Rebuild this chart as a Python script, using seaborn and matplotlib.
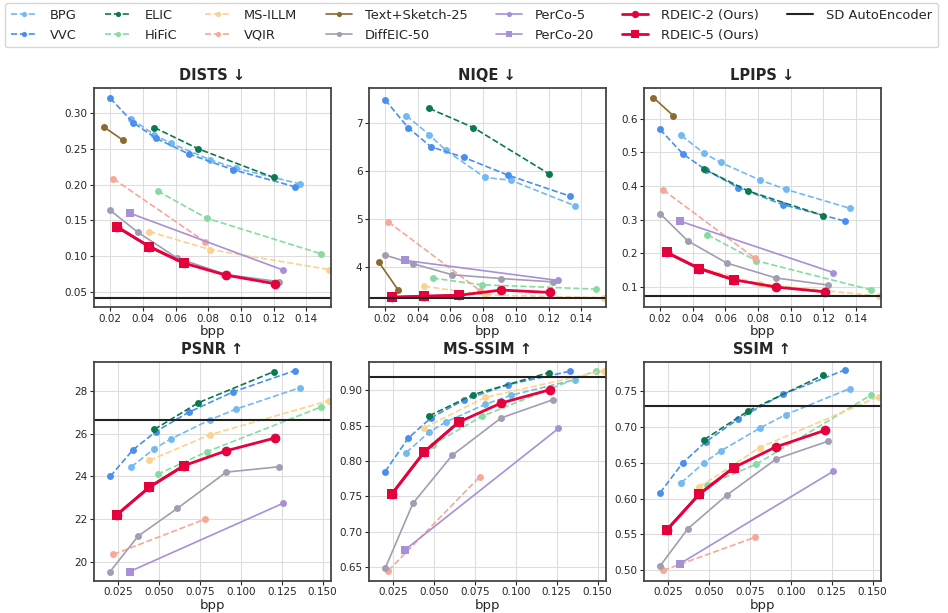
import matplotlib
matplotlib.use("Agg")
import matplotlib.pyplot as plt
import seaborn as sns
import pandas as pd

# bit rates (bpp) per method
BPP = {
    'BPG': [0.033, 0.047, 0.057, 0.081, 0.097, 0.136],
    'VVC': [0.020, 0.034, 0.048, 0.068, 0.095, 0.133],
    'ELIC': [0.047, 0.074, 0.120],
    'HiFiC': [0.049, 0.079, 0.149],
    'MS-ILLM': [0.044, 0.081, 0.154],
    'VQIR': [0.022, 0.078],
    'Text+Sketch-25': [0.016, 0.028],
    'DiffEIC-50': [0.020, 0.037, 0.061, 0.091, 0.123],
    'PerCo-5': [0.032, 0.126],
    'PerCo-20': [0.032],
    'RDEIC-2 (Ours)': [0.024, 0.044, 0.065, 0.091, 0.121],
    'RDEIC-5 (Ours)': [0.024, 0.044, 0.065],
}

DISTS = {
    'BPG': [0.292, 0.270, 0.258, 0.235, 0.223, 0.201],
    'VVC': [0.321, 0.287, 0.265, 0.243, 0.221, 0.197],
    'ELIC': [0.280, 0.250, 0.210],
    'HiFiC': [0.191, 0.153, 0.103],
    'MS-ILLM': [0.134, 0.109, 0.081],
    'VQIR': [0.208, 0.120],
    'Text+Sketch-25': [0.281, 0.262],
    'DiffEIC-50': [0.164, 0.133, 0.097, 0.074, 0.064],
    'PerCo-5': [0.160, 0.080],
    'PerCo-20': [0.160],
    'RDEIC-2 (Ours)': [0.141, 0.113, 0.090, 0.073, 0.061],
    'RDEIC-5 (Ours)': [0.141, 0.113, 0.090],
}

NIQE = {
    'BPG': [7.15, 6.75, 6.43, 5.86, 5.80, 5.27],
    'VVC': [7.48, 6.90, 6.50, 6.28, 5.91, 5.47],
    'ELIC': [7.30, 6.90, 5.94],
    'HiFiC': [3.76, 3.62, 3.53],
    'MS-ILLM': [3.59, 3.41, 3.35],
    'VQIR': [4.93, 3.50],
    'Text+Sketch-25': [4.10, 3.51],
    'DiffEIC-50': [4.24, 4.06, 3.83, 3.75, 3.68],
    'PerCo-5': [4.13, 3.71],
    'PerCo-20': [4.13],
    'RDEIC-2 (Ours)': [3.36, 3.38, 3.40, 3.51, 3.46],
    'RDEIC-5 (Ours)': [3.36, 3.38, 3.40],
}

LPIPS = {
    'BPG': [0.550, 0.497, 0.470, 0.418, 0.390, 0.334],
    'VVC': [0.568, 0.495, 0.448, 0.395, 0.345, 0.296],
    'ELIC': [0.450, 0.385, 0.312],
    'HiFiC': [0.255, 0.178, 0.092],
    'MS-ILLM': [0.157, 0.110, 0.073],
    'VQIR': [0.388, 0.186],
    'Text+Sketch-25': [0.662, 0.609],
    'DiffEIC-50': [0.318, 0.237, 0.171, 0.127, 0.106],
    'PerCo-5': [0.296, 0.143],
    'PerCo-20': [0.296],
    'RDEIC-2 (Ours)': [0.203, 0.155, 0.122, 0.100, 0.086],
    'RDEIC-5 (Ours)': [0.203, 0.155, 0.122],
}

PSNR = {
    'BPG': [24.45, 25.30, 25.75, 26.65, 27.15, 28.15],
    'VVC': [24.00, 25.25, 26.10, 27.00, 27.95, 28.95],
    'ELIC': [26.20, 27.45, 28.90],
    'HiFiC': [24.10, 25.15, 27.25],
    'MS-ILLM': [24.75, 25.95, 27.55],
    'VQIR': [20.35, 22.00],
    'DiffEIC-50': [19.55, 21.20, 22.50, 24.20, 24.45],
    'PerCo-5': [19.55, 22.75],
    'PerCo-20': [19.55],
    'RDEIC-2 (Ours)': [22.20, 23.50, 24.50, 25.20, 25.80],
    'RDEIC-5 (Ours)': [22.20, 23.50, 24.50],
}

MS_SSIM = {
    'BPG': [0.812, 0.841, 0.855, 0.880, 0.893, 0.915],
    'VVC': [0.785, 0.832, 0.861, 0.886, 0.908, 0.927],
    'ELIC': [0.864, 0.894, 0.925],
    'HiFiC': [0.823, 0.863, 0.928],
    'MS-ILLM': [0.847, 0.890, 0.928],
    'VQIR': [0.645, 0.778],
    'DiffEIC-50': [0.648, 0.740, 0.808, 0.861, 0.887],
    'PerCo-5': [0.674, 0.846],
    'PerCo-20': [0.674],
    'RDEIC-2 (Ours)': [0.753, 0.813, 0.855, 0.882, 0.901],
    'RDEIC-5 (Ours)': [0.753, 0.813, 0.855],
}

SSIM = {
    'BPG': [0.622, 0.650, 0.666, 0.698, 0.717, 0.753],
    'VVC': [0.608, 0.650, 0.679, 0.711, 0.745, 0.779],
    'ELIC': [0.682, 0.722, 0.772],
    'HiFiC': [0.619, 0.648, 0.744],
    'MS-ILLM': [0.616, 0.671, 0.742],
    'VQIR': [0.500, 0.546],
    'DiffEIC-50': [0.506, 0.558, 0.605, 0.655, 0.680],
    'PerCo-5': [0.509, 0.638],
    'PerCo-20': [0.509],
    'RDEIC-2 (Ours)': [0.556, 0.606, 0.643, 0.672, 0.695],
    'RDEIC-5 (Ours)': [0.556, 0.606, 0.643],
}

# SD AutoEncoder reference level per metric
SD_AE = {'DISTS': 0.041, 'NIQE': 3.35, 'LPIPS': 0.073,
         'PSNR': 26.65, 'MS-SSIM': 0.919, 'SSIM': 0.729}

METRICS = [('DISTS', '\u2193', DISTS, (0.028, 0.335)),
           ('NIQE', '\u2193', NIQE, (3.15, 7.72)),
           ('LPIPS', '\u2193', LPIPS, (0.04, 0.69)),
           ('PSNR', '\u2191', PSNR, (19.1, 29.35)),
           ('MS-SSIM', '\u2191', MS_SSIM, (0.63, 0.94)),
           ('SSIM', '\u2191', SSIM, (0.485, 0.79))]

STYLE = {
    'BPG': dict(color='#74b9f0', ls='--', marker='o', lw=1.2, ms=5),
    'VVC': dict(color='#4a8ff0', ls='--', marker='o', lw=1.2, ms=5),
    'ELIC': dict(color='#0a7a4e', ls='--', marker='o', lw=1.2, ms=5),
    'HiFiC': dict(color='#86dca0', ls='--', marker='o', lw=1.2, ms=5),
    'MS-ILLM': dict(color='#fcd28e', ls='--', marker='o', lw=1.2, ms=5),
    'VQIR': dict(color='#f7a898', ls='--', marker='o', lw=1.2, ms=5),
    'Text+Sketch-25': dict(color='#8b6a2e', ls='-', marker='o', lw=1.2, ms=5),
    'DiffEIC-50': dict(color='#a19db2', ls='-', marker='o', lw=1.2, ms=5),
    'PerCo-5': dict(color='#a890d8', ls='-', marker='o', lw=1.2, ms=5),
    'PerCo-20': dict(color='#a890d8', ls='-', marker='s', lw=1.2, ms=6),
    'RDEIC-2 (Ours)': dict(color='#e6003c', ls='-', marker='o', lw=2.0, ms=7),
    'RDEIC-5 (Ours)': dict(color='#e6003c', ls='-', marker='s', lw=2.0, ms=7),
}

sns.set_style('whitegrid', {'axes.edgecolor': '#444444', 'grid.color': '#dddddd',
                            'xtick.bottom': True, 'ytick.left': True})
plt.rcParams['font.family'] = ['DejaVu Sans']

fig, axes = plt.subplots(2, 3, figsize=(9.48, 6.13), dpi=100)
fig.subplots_adjust(left=0.099, right=0.929, top=0.856, bottom=0.052,
                    wspace=0.16, hspace=0.25)

for ax, (name, arrow, table, ylim) in zip(axes.flat, METRICS):
    for method, vals in table.items():
        st = STYLE[method]
        df = pd.DataFrame({'bpp': BPP[method], 'value': vals})
        sns.lineplot(data=df, x='bpp', y='value', ax=ax, color=st['color'],
                     linestyle=st['ls'], marker=st['marker'], linewidth=st['lw'],
                     markersize=st['ms'], markeredgewidth=0, label=method,
                     legend=False)
    ax.axhline(SD_AE[name], color='#222222', lw=1.5, label='SD AutoEncoder')
    ax.set_title(f'{name} {arrow}', fontsize=10.5, fontweight='bold', pad=6)
    ax.set_xlim(0.01, 0.155)
    ax.set_ylim(*ylim)
    ax.set_xlabel('bpp', fontsize=9.5, labelpad=1)
    ax.set_ylabel('')
    ax.tick_params(labelsize=7.5, length=3, width=0.8, pad=1.5)
    for sp in ax.spines.values():
        sp.set_linewidth(1.3)

for ax in axes[0]:
    ax.set_xticks([0.02, 0.04, 0.06, 0.08, 0.10, 0.12, 0.14])
    ax.set_xticklabels(['0.02', '0.04', '0.06', '0.08', '0.10', '0.12', '0.14'])
for ax in axes[1]:
    ax.set_xticks([0.025, 0.05, 0.075, 0.10, 0.125, 0.15])
    ax.set_xticklabels(['0.025', '0.050', '0.075', '0.100', '0.125', '0.150'])

# gather legend entries in the wanted order from the top-left panel
handles, labels = axes[0, 0].get_legend_handles_labels()
lookup = dict(zip(labels, handles))
order = list(BPP.keys()) + ['SD AutoEncoder']
fig.legend([lookup[k] for k in order], order, loc='upper left',
           bbox_to_anchor=(0.004, 0.997), borderaxespad=0.1, ncol=7,
           fontsize=9.4, frameon=True, columnspacing=2.15, handlelength=2.0,
           handletextpad=1.0, borderpad=0.45, labelspacing=0.5,
           edgecolor='#cccccc', markerscale=0.75)

fig.savefig('out.png', dpi=100)
